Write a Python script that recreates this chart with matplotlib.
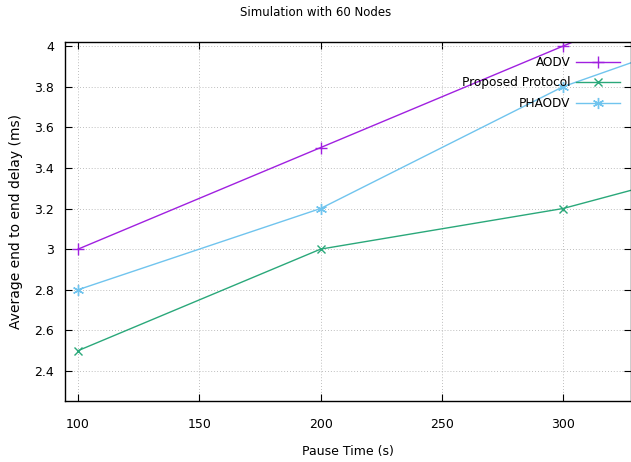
import matplotlib
matplotlib.use("Agg")
import matplotlib.pyplot as plt

pause_time = [100, 200, 300, 400]
aodv = [3.0, 3.5, 4.0, 4.5]
proposed = [2.5, 3.0, 3.2, 3.52]
phaodv = [2.8, 3.2, 3.8, 4.22]

fig = plt.figure(figsize=(6.31, 4.62), dpi=100)
ax = fig.add_axes([65 / 631, 61 / 462, 566 / 631, 359 / 462])

ax.plot(pause_time, aodv, color="#a020e0", lw=1.0, marker="+", ms=8, mew=1.0, label="AODV")
ax.plot(pause_time, proposed, color="#2aa87a", lw=1.0, marker="x", ms=6, mew=1.0, label="Proposed Protocol")
ax.plot(pause_time, phaodv, color="#70c4ee", lw=1.0, marker=(6, 2, 0), ms=8, mew=1.0, label="PHAODV")

ax.set_xlim(94.6, 328)
ax.set_ylim(2.252, 4.02)
ax.set_xticks([100, 150, 200, 250, 300])
ax.set_yticks([2.4, 2.6, 2.8, 3.0, 3.2, 3.4, 3.6, 3.8, 4.0])
ax.set_yticklabels(["2.4", "2.6", "2.8", "3", "3.2", "3.4", "3.6", "3.8", "4"])
ax.tick_params(direction="in", top=True, right=True, labelsize=9, length=5, pad=12)
ax.tick_params(axis="y", pad=8)
ax.grid(True, color="#a8a8a8", linestyle=(0, (1, 2.5)), lw=0.6)
for s in ax.spines.values():
    s.set_linewidth(1.0)

ax.set_xlabel("Pause Time (s)", fontsize=9, labelpad=10)
ax.set_ylabel("Average end to end delay (ms)", fontsize=10, labelpad=8)
fig.text(0.5, 1 - 13 / 462, "Simulation with 60 Nodes", ha="center", va="center", fontsize=8.5)

ax.legend(loc="upper right", frameon=False, markerfirst=False, fontsize=8.7,
          handlelength=3.6, handletextpad=0.5, labelspacing=0.62, borderaxespad=0.3,
          bbox_to_anchor=(0.995, 0.985))

fig.savefig("out.png", dpi=100)
